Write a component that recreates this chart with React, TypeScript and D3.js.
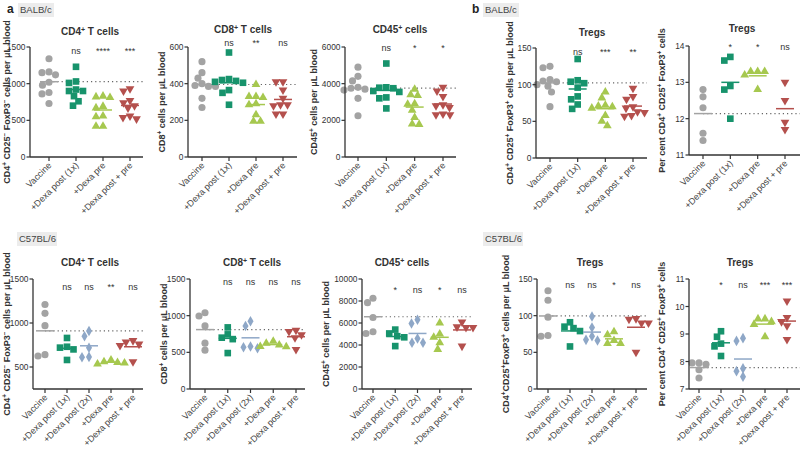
import React from "react";
import * as d3 from "d3";

// ---------- data ----------
const GROUPS_BALB = ["Vaccine", "+Dexa post (1x)", "+Dexa pre", "+Dexa post + pre"];
const GROUPS_C57 = ["Vaccine", "+Dexa post (1x)", "+Dexa post (2x)", "+Dexa pre", "+Dexa post + pre"];

const BALB_CD4 = [
  [1340, 1120, 1150, 1160, 1020, 980, 860, 880, 730],
  [1230, 1030, 1010, 920, 900, 900, 830, 760, 700],
  [810, 820, 830, 690, 670, 560, 550, 420, 420],
  [930, 900, 770, 740, 700, 670, 560, 520, 540],
];
const BALB_CD4_SIG = ["ns", "****", "***"];

const BALB_CD8 = [
  [520, 460, 430, 400, 385, 385, 390, 320, 270],
  [570, 425, 420, 415, 410, 405, 365, 350, 285],
  [395, 330, 325, 330, 290, 285, 230, 195, 195],
  [410, 410, 365, 320, 285, 280, 285, 235, 235],
];
const BALB_CD8_SIG = ["ns", "**", "ns"];

const BALB_CD45 = [
  [4900, 4400, 4150, 3800, 3750, 3700, 3650, 3200, 2250],
  [5100, 3800, 3780, 3750, 3600, 3550, 3250, 3200, 2650],
  [3700, 3400, 3350, 2900, 2880, 2550, 2150, 1800, 1780],
  [3800, 3600, 3300, 2850, 2800, 2700, 2350, 2300, 2300],
];
const BALB_CD45_SIG = ["ns", "*", "*"];

const BALB_TREG = [
  [125, 123, 107, 105, 104, 100, 98, 90, 70],
  [135, 106, 104, 102, 96, 84, 80, 73, 67],
  [90, 82, 72, 71, 70, 68, 58, 50, 44],
  [95, 84, 80, 70, 68, 63, 62, 58, 57],
];
const BALB_TREG_SIG = ["ns", "***", "**"];

const BALB_TREGPCT = [
  [12.8, 12.6, 12.3, 11.6, 11.4],
  [13.7, 13.6, 12.9, 12.8, 12.0],
  [13.3, 13.3, 13.2, 13.3, 12.8],
  [13.0, 12.5, 11.9, 11.7],
];
const BALB_TREGPCT_SIG = ["*", "*", "ns"];

const C57_CD4 = [
  [1210, 1110, 970, 640, 625],
  [830, 730, 720, 700, 580],
  [910, 850, 720, 615, 610],
  [580, 560, 550, 545, 535],
  [800, 785, 760, 745, 560],
];
const C57_CD4_SIG = ["ns", "ns", "**", "ns"];

const C57_CD8 = [
  [1040, 995, 860, 625, 530],
  [840, 745, 700, 680, 490],
  [925, 860, 580, 570, 555],
  [650, 625, 600, 580, 575],
  [800, 785, 740, 700, 540],
];
const C57_CD8_SIG = ["ns", "ns", "ns", "ns"];

const C57_CD45 = [
  [8250, 7850, 6500, 5050, 5200],
  [5400, 5050, 4800, 4700, 3900],
  [6300, 5950, 4600, 4200, 4200],
  [6000, 5000, 4700, 4200, 3600],
  [6100, 5650, 5600, 5600, 3900],
];
const C57_CD45_SIG = ["*", "ns", "*", "ns"];

const C57_TREG = [
  [134, 121, 98, 72, 73],
  [91, 85, 83, 79, 58],
  [99, 84, 72, 67, 66],
  [78, 74, 66, 62, 62],
  [96, 95, 90, 90, 50],
];
const C57_TREG_SIG = ["ns", "ns", "*", "ns"];

const C57_TREGPCT = [
  [7.95, 7.9, 7.95, 7.7, 7.4],
  [9.1, 8.9, 8.65, 8.55, 8.2],
  [8.85, 8.75, 7.75, 7.65, 7.45],
  [9.55, 9.55, 9.45, 9.35, 8.9],
  [10.2, 9.6, 9.45, 9.3, 8.8],
];
const C57_TREGPCT_SIG = ["*", "ns", "***", "***"];

// ---------- styles ----------
const FONT = "'Liberation Sans', Arial, Helvetica, sans-serif";
const INK = "#333";
const STYLE: Record<string, { color: string; shape: string }> = {
  "Vaccine": { color: "#a3a3a3", shape: "circle" },
  "+Dexa post (1x)": { color: "#17936c", shape: "square" },
  "+Dexa post (2x)": { color: "#8ea7c7", shape: "diamond" },
  "+Dexa pre": { color: "#a6c84f", shape: "triangle" },
  "+Dexa post + pre": { color: "#b4504d", shape: "down" },
};

function symbolPath(shape: string): string {
  if (shape === "circle") return d3.symbol(d3.symbolCircle, 40)()!;
  if (shape === "square") return d3.symbol(d3.symbolSquare, 44)()!;
  if (shape === "diamond") return d3.symbol(d3.symbolDiamond, 32)()!;
  return d3.symbol(d3.symbolTriangle, 33)()!;
}

function swarm(ys: number[], minD: number): number[] {
  const order = ys.map((_, i) => i).sort((a, b) => ys[a] - ys[b]);
  const placed: { x: number; y: number }[] = [];
  const xs = new Array(ys.length).fill(0);
  for (const i of order) {
    const y = ys[i];
    let best = 0;
    for (let k = 0; k < 80; k++) {
      const dx = (k % 2 === 1 ? -1 : 1) * Math.ceil(k / 2) * 0.5;
      if (placed.every((p) => Math.hypot(p.x - dx, p.y - y) >= minD)) {
        best = dx;
        break;
      }
    }
    xs[i] = best;
    placed.push({ x: best, y });
  }
  return xs;
}

function Rich({ text }: { text: string }) {
  const parts = text.split(/\^([+-])/);
  return (
    <>
      {parts.map((p, i) =>
        i % 2 === 1 ? (
          <tspan key={i} fontSize="70%" baselineShift="super">
            {p === "-" ? "\u2212" : p}
          </tspan>
        ) : (
          <tspan key={i}>{p}</tspan>
        )
      )}
    </>
  );
}

type PanelCfg = {
  groups: string[];
  data: number[][];
  sig: string[];
  domain: [number, number];
  ticks: number[];
  axisX: number;
  firstX: number;
  lastX: number;
  endX: number;
  yTop: number;
  yBottom: number;
  title: string;
  titleX: number;
  titleY: number;
  ylabel: string;
  ylabelX: number;
  sigY: number;
};

function Panel({ c }: { c: PanelCfg }) {
  const x = d3.scalePoint<string>().domain(c.groups).range([c.firstX, c.lastX]);
  const y = d3.scaleLinear().domain(c.domain).range([c.yBottom, c.yTop]);
  const means = c.data.map((arr) => d3.mean(arr)!);
  const refY = y(means[0]);
  const midY = (c.yTop + c.yBottom) / 2;
  return (
    <g fontFamily={FONT}>
      <text x={c.titleX} y={c.titleY} textAnchor="middle" fontSize={10} fontWeight="bold" fill={INK}>
        <Rich text={c.title} />
      </text>
      <text
        transform={`translate(${c.ylabelX + 3.3},${midY}) rotate(-90)`}
        textAnchor="middle"
        fontSize={9}
        fontWeight="bold"
        fill={INK}
      >
        <Rich text={c.ylabel} />
      </text>
      <line
        x1={x(c.groups[0])!}
        x2={c.endX}
        y1={refY}
        y2={refY}
        stroke="#666"
        strokeWidth={1.2}
        strokeDasharray="1.2,3"
      />
      {c.data.map((arr, gi) => {
        const g = c.groups[gi];
        const st = STYLE[g];
        const cx = x(g)!;
        const ys = arr.map((v) => y(v));
        const dxs = swarm(ys, 6.8);
        const path = symbolPath(st.shape);
        const rot = st.shape === "down" ? 180 : 0;
        return (
          <g key={g}>
            {ys.map((py, i) => (
              <path
                key={i}
                d={path}
                fill={st.color}
                transform={`translate(${cx + dxs[i]},${py}) rotate(${rot})`}
              />
            ))}
            <line x1={cx - 9} x2={cx + 9} y1={y(means[gi])} y2={y(means[gi])} stroke={st.color} strokeWidth={1.5} />
          </g>
        );
      })}
      {c.sig.map((s, i) => (
        <text key={i} x={x(c.groups[i + 1])!} y={c.sigY} textAnchor="middle" fontSize={9} fill={INK}>
          {s}
        </text>
      ))}
      <line x1={c.axisX} x2={c.axisX} y1={c.yTop} y2={c.yBottom} stroke={INK} strokeWidth={1.3} />
      {c.ticks.map((t) => (
        <g key={t}>
          <line x1={c.axisX - 3.5} x2={c.axisX} y1={y(t)} y2={y(t)} stroke={INK} strokeWidth={1.2} />
          <text x={c.axisX - 4.5} y={y(t) + 3.1} textAnchor="end" fontSize={8.4} fill={INK}>
            {t}
          </text>
        </g>
      ))}
      <line x1={c.axisX} x2={c.endX} y1={c.yBottom} y2={c.yBottom} stroke={INK} strokeWidth={1.3} />
      {c.groups.map((g) => (
        <g key={g}>
          <line x1={x(g)!} x2={x(g)!} y1={c.yBottom} y2={c.yBottom + 4} stroke={INK} strokeWidth={1.2} />
          <text
            transform={`translate(${x(g)! + 3},${c.yBottom + 9}) rotate(-45)`}
            textAnchor="end"
            fontSize={9}
            fill="#444"
          >
            {g}
          </text>
        </g>
      ))}
    </g>
  );
}

const T1 = 47, B1 = 157, T2 = 279, B2 = 389;

const PANELS: PanelCfg[] = [
  { groups: GROUPS_BALB, data: BALB_CD4, sig: BALB_CD4_SIG, domain: [0, 1500], ticks: [0, 500, 1000, 1500],
    axisX: 30, firstX: 49, lastX: 130, endX: 143, yTop: T1, yBottom: B1,
    title: "CD4^+ T cells", titleX: 90, titleY: 35, ylabel: "CD4^+ CD25^- FoxP3^- cells per \u03bcL blood", ylabelX: 6.5, sigY: 54 },
  { groups: GROUPS_BALB, data: BALB_CD8, sig: BALB_CD8_SIG, domain: [0, 600], ticks: [0, 200, 400, 600],
    axisX: 188, firstX: 202, lastX: 283, endX: 297, yTop: T1, yBottom: B1,
    title: "CD8^+ T cells", titleX: 243, titleY: 33, ylabel: "CD8^+ cells per \u03bcL blood", ylabelX: 162, sigY: 46 },
  { groups: GROUPS_BALB, data: BALB_CD45, sig: BALB_CD45_SIG, domain: [0, 6000], ticks: [0, 2000, 4000, 6000],
    axisX: 345, firstX: 358, lastX: 443, endX: 456, yTop: T1, yBottom: B1,
    title: "CD45^+ cells", titleX: 400, titleY: 33, ylabel: "CD45^+ cells per \u03bcL blood", ylabelX: 314, sigY: 51 },
  { groups: GROUPS_BALB, data: BALB_TREG, sig: BALB_TREG_SIG, domain: [0, 150], ticks: [0, 50, 100, 150],
    axisX: 536, firstX: 550, lastX: 633, endX: 647, yTop: 48, yBottom: 158,
    title: "Tregs", titleX: 592, titleY: 36, ylabel: "CD4^+ CD25^+ FoxP3^+ cells per \u03bcL blood", ylabelX: 510, sigY: 55 },
  { groups: GROUPS_BALB, data: BALB_TREGPCT, sig: BALB_TREGPCT_SIG, domain: [11, 14], ticks: [11, 12, 13, 14],
    axisX: 689, firstX: 703, lastX: 785, endX: 800, yTop: 46, yBottom: 155,
    title: "Tregs", titleX: 742, titleY: 32, ylabel: "Per cent CD4^+ CD25^+ FoxP3^+ cells", ylabelX: 662, sigY: 50 },
  { groups: GROUPS_C57, data: C57_CD4, sig: C57_CD4_SIG, domain: [250, 1500], ticks: [500, 1000, 1500],
    axisX: 33, firstX: 45, lastX: 133, endX: 143, yTop: T2, yBottom: B2,
    title: "CD4^+ T cells", titleX: 90, titleY: 266, ylabel: "CD4^+ CD25^- FoxP3^- cells per \u03bcL blood", ylabelX: 7, sigY: 290 },
  { groups: GROUPS_C57, data: C57_CD8, sig: C57_CD8_SIG, domain: [0, 1500], ticks: [0, 500, 1000, 1500],
    axisX: 190, firstX: 205, lastX: 296, endX: 305, yTop: T2, yBottom: B2,
    title: "CD8^+ T cells", titleX: 252, titleY: 266, ylabel: "CD8^+ cells per \u03bcL blood", ylabelX: 164, sigY: 285 },
  { groups: GROUPS_C57, data: C57_CD45, sig: C57_CD45_SIG, domain: [0, 10000], ticks: [0, 2000, 4000, 6000, 8000, 10000],
    axisX: 362, firstX: 373, lastX: 462, endX: 472, yTop: T2, yBottom: B2,
    title: "CD45^+ cells", titleX: 402, titleY: 266, ylabel: "CD45^+ cells per \u03bcL blood", ylabelX: 326, sigY: 293 },
  { groups: GROUPS_C57, data: C57_TREG, sig: C57_TREG_SIG, domain: [0, 150], ticks: [0, 50, 100, 150],
    axisX: 537, firstX: 548, lastX: 636, endX: 647, yTop: T2, yBottom: B2,
    title: "Tregs", titleX: 590, titleY: 266, ylabel: "CD4^+CD25^+FoxP3^+ cells per \u03bcL blood", ylabelX: 506, sigY: 288 },
  { groups: GROUPS_C57, data: C57_TREGPCT, sig: C57_TREGPCT_SIG, domain: [7, 11], ticks: [7, 8, 9, 10, 11],
    axisX: 689, firstX: 699, lastX: 787, endX: 800, yTop: T2, yBottom: B2,
    title: "Tregs", titleX: 740, titleY: 266, ylabel: "Per cent CD4^+ CD25^+ FoxP3^+ cells", ylabelX: 662, sigY: 288 },
];

function Tag({ x, y, letter, label, w }: { x: number; y: number; letter?: string; label: string; w: number }) {
  return (
    <g fontFamily={FONT}>
      {letter && (
        <text x={x - 13} y={y} fontSize={12} fontWeight="bold" fill="#222">
          {letter}
        </text>
      )}
      <rect x={x - 2} y={y - 10} width={w} height={14} fill="#ececec" />
      <text x={x} y={y} fontSize={9.5} fill="#444">
        {label}
      </text>
    </g>
  );
}

export default function App() {
  return (
    <svg
      width={800}
      height={453}
      style={{ position: "absolute", left: 0, top: 0, background: "#fff" }}
    >
      <rect width={800} height={453} fill="#fff" />
      <Tag x={20} y={13} letter="a" label="BALB/c" w={36} />
      <Tag x={485} y={13} letter="b" label="BALB/c" w={36} />
      <Tag x={19} y={242} label="C57BL/6" w={40} />
      <Tag x={485} y={242} label="C57BL/6" w={40} />
      {PANELS.map((c, i) => (
        <Panel key={i} c={c} />
      ))}
    </svg>
  );
}
